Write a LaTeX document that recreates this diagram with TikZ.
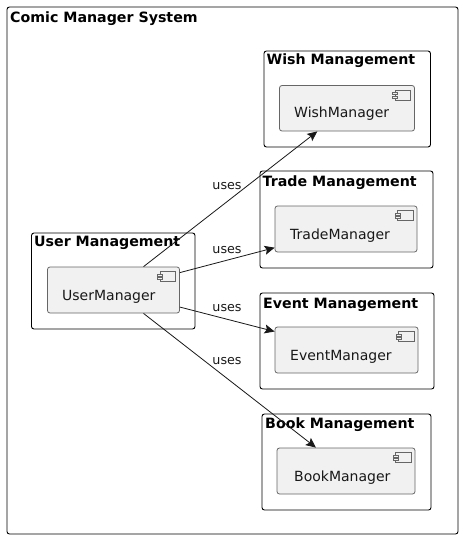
\documentclass[tikz,border=0pt]{standalone}
\usepackage{fontspec}
\setmainfont{DejaVu Sans}
\usetikzlibrary{arrows.meta}
\definecolor{compfill}{HTML}{F1F1F1}
\definecolor{compline}{HTML}{666666}
\definecolor{ink}{HTML}{181818}
\tikzset{
  packbox/.style={draw=black,line width=0.9pt,rounded corners=2.5pt,inner sep=0pt,fill=white},
  compbox/.style={draw=compline,line width=0.8pt,rounded corners=2.5pt,fill=compfill,inner sep=0pt},
  packtitle/.style={font=\bfseries\fontsize{14.2}{16}\selectfont,anchor=base west,inner sep=0pt,text=black},
  compname/.style={font=\fontsize{14}{16}\selectfont,anchor=base west,inner sep=0pt,text=ink},
  edgetext/.style={font=\fontsize{12.7}{15}\selectfont,inner sep=0pt,text=ink},
  uses/.style={draw=ink,line width=0.8pt,-{Stealth[length=10pt,width=9pt,inset=2pt]}},
  iconpart/.style={draw=compline,line width=0.7pt,fill=compfill}
}
\newcommand{\compicon}[1]{%
  \draw[iconpart] ([shift={(-20,5)}]#1.north east) rectangle ([shift={(-4.5,15)}]#1.north east);
  \draw[iconpart] ([shift={(-22.5,7.5)}]#1.north east) rectangle ([shift={(-17.5,9.5)}]#1.north east);
  \draw[iconpart] ([shift={(-22.5,11)}]#1.north east) rectangle ([shift={(-17.5,13)}]#1.north east);
}
\begin{document}
\begin{tikzpicture}[x=1pt,y=-1pt]
\useasboundingbox (0,0) rectangle (463,539);
\node[packbox,minimum width=451pt,minimum height=527pt] (sys) at (232.5,270.5) {};
\node[packtitle] (syst) at (10,22) {Comic Manager System};

\node[packbox,minimum width=163.5pt,minimum height=96pt] (up) at (113.25,281) {};
\node[packtitle] (upt) at (34,246.7) {User Management};
\node[compbox,minimum width=132pt,minimum height=46pt] (um) at (113.5,290) {};
\node[compname] (umt) at (62,300) {UserManager};

\node[packbox,minimum width=166.5pt,minimum height=96pt] (wp) at (347.25,99) {};
\node[packtitle] (wpt) at (266.5,64.5) {Wish Management};
\node[compbox,minimum width=135pt,minimum height=45.5pt] (wm) at (347,108.25) {};
\node[compname] (wmt) at (294,117.5) {WishManager};

\node[packbox,minimum width=173pt,minimum height=97pt] (tp) at (346.5,219.5) {};
\node[packtitle] (tpt) at (262.5,186) {Trade Management};
\node[compbox,minimum width=142pt,minimum height=46pt] (tm) at (346,229) {};
\node[compname] (tmt) at (290,239) {TradeManager};

\node[packbox,minimum width=174pt,minimum height=96pt] (ep) at (347,341) {};
\node[packtitle] (ept) at (263,308) {Event Management};
\node[compbox,minimum width=143pt,minimum height=46pt] (em) at (346.5,350) {};
\node[compname] (emt) at (290,360) {EventManager};

\node[packbox,minimum width=169pt,minimum height=96pt] (bp) at (346.5,462) {};
\node[packtitle] (bpt) at (265,428) {Book Management};
\node[compbox,minimum width=138pt,minimum height=46pt] (bm) at (346,471) {};
\node[compname] (bmt) at (294,481) {BookManager};

\compicon{um}\compicon{wm}\compicon{tm}\compicon{em}\compicon{bm}

\draw[uses] (um) -- (wm);
\draw[uses] (um) -- (tm);
\draw[uses] (um) -- (em);
\draw[uses] (um) -- (bm);

\node[edgetext] (l1) at (227,186.5) {uses};
\node[edgetext] (l2) at (227,250.5) {uses};
\node[edgetext] (l3) at (227,308.5) {uses};
\node[edgetext] (l4) at (227,361.5) {uses};
\end{tikzpicture}
\end{document}
